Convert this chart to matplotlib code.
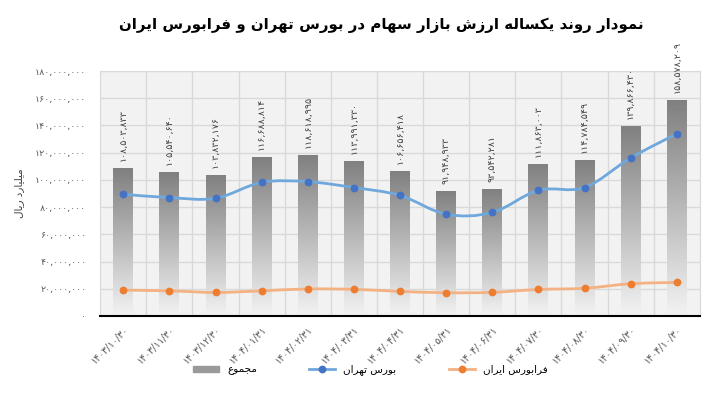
import numpy as np
import matplotlib
matplotlib.use("Agg")
import matplotlib.pyplot as plt
from matplotlib.path import Path
from matplotlib.patches import PathPatch, Patch
from matplotlib.lines import Line2D
from matplotlib.ticker import FuncFormatter, MultipleLocator

# data (values in rial)
dates = ["1403/10/30", "1403/11/30", "1403/12/30", "1404/01/31", "1404/02/31",
         "1404/03/31", "1404/04/31", "1404/05/31", "1404/06/31", "1404/07/30",
         "1404/08/30", "1404/09/30", "1404/10/30"]
total = [108503833, 105540640, 103832176, 116688814, 118618995, 113991330,
         106656418, 91948933, 93542281, 111863003, 114784549, 139866430,
         158578209]
tehran = [89.5e6, 87.0e6, 86.5e6, 98.2e6, 98.7e6, 94.4e6, 88.6e6, 74.8e6,
          76.1e6, 92.4e6, 94.4e6, 116.2e6, 133.9e6]
farabourse = [19.0e6, 18.5e6, 17.3e6, 18.5e6, 19.9e6, 19.6e6, 18.1e6, 17.1e6,
              17.4e6, 19.5e6, 20.4e6, 23.7e6, 24.7e6]

title = "نمودار روند یکساله ارزش بازار سهام در بورس تهران و فرابورس ایران"
ylabel = "میلیارد ریال"
names = ["مجموع", "بورس تهران", "فرابورس ایران"]

# persian shaping, matplotlib has no bidi / joining of its own
FORMS = {
    'ا': (0xFE8D, 0xFE8E), 'د': (0xFEA9, 0xFEAA), 'ر': (0xFEAD, 0xFEAE),
    'ز': (0xFEAF, 0xFEB0), 'و': (0xFEED, 0xFEEE),
    'ب': (0xFE8F, 0xFE90, 0xFE91, 0xFE92), 'پ': (0xFB56, 0xFB57, 0xFB58, 0xFB59),
    'ت': (0xFE95, 0xFE96, 0xFE97, 0xFE98), 'ج': (0xFE9D, 0xFE9E, 0xFE9F, 0xFEA0),
    'س': (0xFEB1, 0xFEB2, 0xFEB3, 0xFEB4), 'ش': (0xFEB5, 0xFEB6, 0xFEB7, 0xFEB8),
    'ع': (0xFEC9, 0xFECA, 0xFECB, 0xFECC), 'ف': (0xFED1, 0xFED2, 0xFED3, 0xFED4),
    'ک': (0xFB8E, 0xFB8F, 0xFB90, 0xFB91), 'ل': (0xFEDD, 0xFEDE, 0xFEDF, 0xFEE0),
    'م': (0xFEE1, 0xFEE2, 0xFEE3, 0xFEE4), 'ن': (0xFEE5, 0xFEE6, 0xFEE7, 0xFEE8),
    'ه': (0xFEE9, 0xFEEA, 0xFEEB, 0xFEEC), 'ی': (0xFBFC, 0xFBFD, 0xFBFE, 0xFBFF),
}


def fa(text):
    out = []
    for i, c in enumerate(text):
        if c not in FORMS:
            out.append(c)
            continue
        prev = text[i - 1] if i > 0 else ""
        nxt = text[i + 1] if i + 1 < len(text) else ""
        join_prev = prev in FORMS and len(FORMS[prev]) == 4
        join_next = len(FORMS[c]) == 4 and nxt in FORMS
        f = FORMS[c]
        if join_prev and join_next:
            out.append(chr(f[3]))
        elif join_prev:
            out.append(chr(f[1]))
        elif join_next:
            out.append(chr(f[2]))
        else:
            out.append(chr(f[0]))
    return "".join(out)[::-1]


def digits(s):
    return s.translate(str.maketrans("0123456789", "۰۱۲۳۴۵۶۷۸۹"))


def smooth_path(x, y):
    # bezier through the points, catmull-rom style like excel's smoothed line
    pts = np.column_stack([x, y])
    verts = [pts[0]]
    codes = [Path.MOVETO]
    n = len(pts)
    for i in range(n - 1):
        p0 = pts[max(i - 1, 0)]
        p1, p2 = pts[i], pts[i + 1]
        p3 = pts[min(i + 2, n - 1)]
        verts += [p1 + (p2 - p0) / 6, p2 - (p3 - p1) / 6, p2]
        codes += [Path.CURVE4] * 3
    return Path(verts, codes)


plt.rcParams["font.family"] = ["DejaVu Sans"]

fig = plt.figure(figsize=(7.26, 3.97), dpi=100)
ax = fig.add_axes([0.138, 0.204, 0.826, 0.617])
ax.set_facecolor("#f2f2f2")

x = np.arange(len(dates))

grad = np.linspace(0.95, 0.5, 256).reshape(-1, 1)
bars = ax.bar(x, total, width=0.43, color="none", zorder=2)
for b in bars:
    im = ax.imshow(grad, cmap="gray", vmin=0, vmax=1, aspect="auto",
                   origin="lower", zorder=2,
                   extent=(b.get_x(), b.get_x() + b.get_width(), 0, b.get_height()))
    im.set_clip_path(b)
ax.set_xlim(-0.5, len(dates) - 0.5)
ax.set_ylim(0, 180e6)

for xi, v in zip(x, total):
    ax.annotate(digits(f"{v:,}"), (xi, v), xytext=(0, 5), textcoords="offset points",
                rotation=90, ha="center", va="bottom", fontsize=6.8,
                color="#404040", annotation_clip=False)

ax.add_patch(PathPatch(smooth_path(x, tehran), fill=False, color="#6fa8dc",
                       lw=2.0, zorder=3))
ax.plot(x, tehran, "o", ms=4.6, color="#4472c4", zorder=4)
ax.add_patch(PathPatch(smooth_path(x, farabourse), fill=False, color="#f4b183",
                       lw=2.0, zorder=3))
ax.plot(x, farabourse, "o", ms=4.6, color="#ed7d31", zorder=4)

ax.yaxis.set_major_locator(MultipleLocator(20e6))
ax.yaxis.set_major_formatter(FuncFormatter(lambda v, p: digits(f"{int(v):,}")))
ax.set_xticks(x)
ax.set_xticklabels([digits(d) for d in dates], rotation=45, ha="right",
                   rotation_mode="anchor", fontsize=7, color="#595959")
ax.tick_params(axis="y", length=0, pad=10, labelsize=6.8, labelcolor="#595959")
ax.tick_params(axis="x", length=0, pad=6)

ax.set_xticks(x[:-1] + 0.5, minor=True)
ax.tick_params(axis="x", which="minor", length=0)
ax.grid(axis="y", color="#d9d9d9", lw=1)
ax.grid(axis="x", which="minor", color="#d9d9d9", lw=1)
ax.set_axisbelow(True)
for s in ["left", "right", "top"]:
    ax.spines[s].set_color("#d9d9d9")
ax.spines["bottom"].set_color("black")
ax.spines["bottom"].set_linewidth(1.5)

ax.set_ylabel(fa(ylabel), fontsize=7.5, color="#404040", labelpad=8)

fig.text(0.525, 0.937, fa(title), ha="center", va="center", fontsize=10.8,
         fontweight="bold")

handles = [Patch(color="#9a9a9a"),
           Line2D([], [], color="#6fa8dc", lw=2, marker="o", ms=4.6,
                  mfc="#4472c4", mec="#4472c4"),
           Line2D([], [], color="#f4b183", lw=2, marker="o", ms=4.6,
                  mfc="#ed7d31", mec="#ed7d31")]
fig.legend(handles, [fa(n) for n in names], loc="center", ncol=3,
           bbox_to_anchor=(0.51, 0.068), frameon=False, fontsize=7.5,
           columnspacing=5, handlelength=2.5, handleheight=0.5)

fig.savefig("out.png", dpi=100, facecolor="white")
